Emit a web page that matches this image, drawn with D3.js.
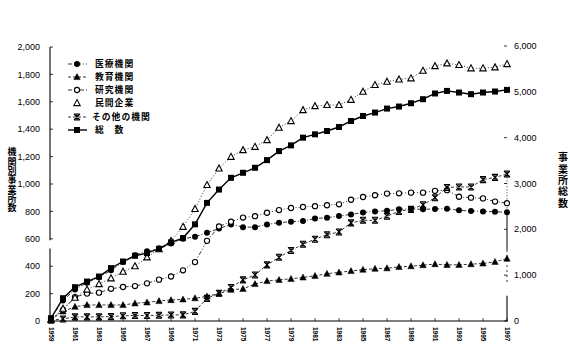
<!DOCTYPE html>
<html>
<head>
<meta charset="utf-8">
<script src="https://cdn.jsdelivr.net/npm/d3@7"></script>
<style>
  body { margin: 0; background: #fff; }
  svg { display: block; }
</style>
</head>
<body>
<div id="container"></div>
<script>
/* CONSTANTS AND DATA */
const width = 570;
const height = 362;

const years = [1959, 1960, 1961, 1962, 1963, 1964, 1965, 1966, 1967, 1968, 1969, 1970, 1971, 1972, 1973, 1974, 1975, 1976, 1977,
  1978, 1979, 1980, 1981, 1982, 1983, 1984, 1985, 1986, 1987, 1988, 1989, 1990, 1991, 1992, 1993, 1994, 1995, 1996, 1997];
const yearTicks = [1959, 1961, 1963, 1965, 1967, 1969, 1971, 1973, 1975, 1977, 1979, 1981, 1983, 1985, 1987, 1989, 1991, 1993, 1995, 1997];
const leftTicks = [0, 200, 400, 600, 800, 1000, 1200, 1400, 1600, 1800, 2000];
const rightTicks = [0, 1000, 2000, 3000, 4000, 5000, 6000];

const seriesNames = ["医療機関", "教育機関", "研究機関", "民間企業", "その他の機関", "総　数"];

// 機関別 (left axis)
const iryo = [20, 150, 230, 280, 320, 370, 430, 480, 510, 525, 565, 600, 615, 645, 675, 705, 685, 685, 705, 718, 725, 730, 748, 754,
  766, 778, 792, 800, 805, 815, 818, 815, 818, 820, 808, 803, 800, 798, 793];
const kyoiku = [10, 70, 104, 117, 117, 117, 117, 129, 136, 146, 153, 158, 166, 180, 200, 228, 235, 270, 292, 300, 308, 318, 330, 345,
  355, 365, 375, 382, 385, 395, 400, 408, 415, 410, 410, 415, 420, 432, 455];
const kenkyu = [10, 80, 175, 200, 207, 235, 248, 255, 275, 302, 325, 370, 430, 585, 690, 725, 755, 765, 790, 810, 825, 832, 838, 845,
  852, 885, 905, 918, 930, 932, 937, 937, 950, 955, 907, 900, 895, 872, 860];
const minkan = [10, 90, 170, 230, 270, 312, 360, 400, 465, 525, 585, 688, 818, 993, 1114, 1199, 1248, 1272, 1321, 1411, 1460, 1540,
  1569, 1577, 1577, 1615, 1674, 1723, 1747, 1764, 1772, 1827, 1861, 1881, 1869, 1845, 1845, 1852, 1876];
const sonota = [5, 15, 30, 30, 30, 32, 38, 40, 40, 42, 44, 45, 70, 165, 203, 245, 300, 336, 410, 465, 515, 560, 597, 630, 650, 716,
  735, 735, 765, 800, 815, 848, 900, 975, 978, 978, 1032, 1048, 1073];
// 総数 (right axis)
const sousu = [60, 497, 738, 860, 970, 1154, 1298, 1423, 1482, 1577, 1715, 1810, 2110, 2577, 2868, 3124, 3234, 3343, 3510, 3707, 3832,
  4000, 4073, 4145, 4233, 4364, 4473, 4548, 4635, 4679, 4751, 4839, 4964, 5020, 4985, 4949, 4985, 5007, 5043];

const series = [
  { name: seriesNames[0], values: iryo, axis: "L", marker: "circle", dash: "4,2,1,2", lw: 0.8 },
  { name: seriesNames[1], values: kyoiku, axis: "L", marker: "triangle", dash: "3,2", lw: 0.8 },
  { name: seriesNames[2], values: kenkyu, axis: "L", marker: "ocircle", dash: "4,2,1,2,1,2", lw: 0.8 },
  { name: seriesNames[3], values: minkan, axis: "L", marker: "otriangle", dash: "1,2", lw: 0.8 },
  { name: seriesNames[4], values: sonota, axis: "L", marker: "star", dash: "3,2", lw: 0.8 },
  { name: seriesNames[5], values: sousu, axis: "R", marker: "square", dash: null, lw: 1.4 }
];

/* SCALES */
const xScale = d3.scaleLinear().domain([1959, 1997]).range([51, 507]);
const yLeft = d3.scaleLinear().domain([0, 2000]).range([321, 47]);
const yRight = d3.scaleLinear().domain([0, 6000]).range([321, 46]);

const numFont = "'Liberation Sans', Arial, sans-serif";
const jpFont = "'Noto Sans CJK JP', 'Noto Sans CJK SC', sans-serif";

/* SVG */
const svg = d3.select("#container")
  .append("svg")
  .attr("width", width)
  .attr("height", height)
  .style("background-color", "#fff");

// left axis (line with a break between 400 and 600)
const axL = svg.append("g");
axL.append("line")
  .attr("x1", 50).attr("x2", 50)
  .attr("y1", yLeft(2000)).attr("y2", yLeft(590))
  .attr("stroke", "#000").attr("stroke-width", 1.1);
axL.append("line")
  .attr("x1", 50).attr("x2", 50)
  .attr("y1", yLeft(530)).attr("y2", yLeft(0))
  .attr("stroke", "#000").attr("stroke-width", 1.1);
axL.selectAll("line.tick")
  .data(leftTicks)
  .join("line")
  .attr("class", "tick")
  .attr("x1", 50).attr("x2", 53)
  .attr("y1", d => yLeft(d)).attr("y2", d => yLeft(d))
  .attr("stroke", "#000").attr("stroke-width", 0.8);
axL.selectAll("text")
  .data(leftTicks)
  .join("text")
  .attr("x", 40)
  .attr("y", d => yLeft(d))
  .attr("dy", "0.35em")
  .attr("text-anchor", "end")
  .style("font-family", numFont)
  .style("font-size", "9px")
  .text(d => d3.format(",")(d));

// right axis
const axR = svg.append("g");
axR.append("line")
  .attr("x1", 507).attr("x2", 507)
  .attr("y1", yRight(3200)).attr("y2", yRight(2350))
  .attr("stroke", "#000").attr("stroke-width", 0.8).attr("stroke-dasharray", "1,2");
axR.append("line")
  .attr("x1", 507).attr("x2", 507)
  .attr("y1", yRight(2350)).attr("y2", yRight(1550))
  .attr("stroke", "#000").attr("stroke-width", 1);
axR.append("line")
  .attr("x1", 507).attr("x2", 507)
  .attr("y1", yRight(1550)).attr("y2", yRight(800))
  .attr("stroke", "#000").attr("stroke-width", 0.8).attr("stroke-dasharray", "2,3");
axR.append("line")
  .attr("x1", 507).attr("x2", 507)
  .attr("y1", yRight(550)).attr("y2", yRight(0))
  .attr("stroke", "#000").attr("stroke-width", 1.1);
axR.selectAll("line.tick")
  .data(rightTicks)
  .join("line")
  .attr("class", "tick")
  .attr("x1", 504).attr("x2", 507)
  .attr("y1", d => yRight(d)).attr("y2", d => yRight(d))
  .attr("stroke", "#000").attr("stroke-width", 0.8);
axR.selectAll("text")
  .data(rightTicks)
  .join("text")
  .attr("x", 514)
  .attr("y", d => yRight(d))
  .attr("dy", "0.35em")
  .style("font-family", numFont)
  .style("font-size", "9px")
  .text(d => d3.format(",")(d));

// x axis
const axX = svg.append("g");
axX.append("line")
  .attr("x1", 50).attr("x2", 508)
  .attr("y1", 321).attr("y2", 321)
  .attr("stroke", "#000").attr("stroke-width", 1.1);
axX.selectAll("line.tick")
  .data(yearTicks)
  .join("line")
  .attr("class", "tick")
  .attr("x1", d => xScale(d)).attr("x2", d => xScale(d))
  .attr("y1", 321).attr("y2", 318)
  .attr("stroke", "#000").attr("stroke-width", 0.7);
axX.selectAll("text")
  .data(yearTicks)
  .join("text")
  .attr("transform", d => `translate(${xScale(d)},327) rotate(90)`)
  .attr("dy", "0.35em")
  .style("font-family", numFont)
  .style("font-size", "6.5px")
  .style("font-weight", "bold")
  .text(d => d);

// axis titles (vertical writing)
svg.append("text")
  .attr("x", 12).attr("y", 180)
  .attr("text-anchor", "middle")
  .style("writing-mode", "vertical-rl")
  .style("font-family", jpFont)
  .style("font-weight", "bold")
  .style("font-size", "9px")
  .style("letter-spacing", "0.3px")
  .text("機関別事業所数");
svg.append("text")
  .attr("x", 563).attr("y", 181)
  .attr("text-anchor", "middle")
  .style("writing-mode", "vertical-rl")
  .style("font-family", jpFont)
  .style("font-weight", "bold")
  .style("font-size", "10px")
  .style("letter-spacing", "1.4px")
  .text("事業所総数");

/* MARKERS */
function drawMarker(g, type, cx, cy) {
  if (type === "circle") {
    g.append("circle").attr("cx", cx).attr("cy", cy).attr("r", 3).attr("fill", "#000");
  } else if (type === "ocircle") {
    g.append("circle").attr("cx", cx).attr("cy", cy).attr("r", 2.6)
      .attr("fill", "#fff").attr("stroke", "#000").attr("stroke-width", 1.1);
  } else if (type === "triangle" || type === "otriangle") {
    const p = `M${cx},${cy - 3.4}L${cx + 3.2},${cy + 2.6}L${cx - 3.2},${cy + 2.6}Z`;
    g.append("path").attr("d", p)
      .attr("fill", type === "triangle" ? "#000" : "#fff")
      .attr("stroke", "#000").attr("stroke-width", type === "triangle" ? 0.5 : 1.1);
  } else if (type === "square") {
    g.append("rect").attr("x", cx - 3).attr("y", cy - 3).attr("width", 6).attr("height", 6).attr("fill", "#000");
  } else if (type === "star") {
    const s = 3;
    const p = `M${cx - s},${cy - s}L${cx + s},${cy + s}M${cx + s},${cy - s}L${cx - s},${cy + s}` +
      `M${cx},${cy - s}L${cx},${cy + s}M${cx - s},${cy - s}L${cx + s},${cy - s}M${cx - s},${cy + s}L${cx + s},${cy + s}`;
    g.append("path").attr("d", p).attr("fill", "none").attr("stroke", "#000").attr("stroke-width", 1.1);
  }
}

/* LINES AND POINTS */
const plot = svg.append("g");
series.forEach(s => {
  const yS = s.axis === "L" ? yLeft : yRight;
  const line = d3.line()
    .x((d, i) => xScale(years[i]))
    .y(d => yS(d));
  plot.append("path")
    .datum(s.values)
    .attr("d", line)
    .attr("fill", "none")
    .attr("stroke", "#000")
    .attr("stroke-width", s.lw)
    .attr("stroke-dasharray", s.dash);
});
series.forEach(s => {
  const yS = s.axis === "L" ? yLeft : yRight;
  const g = plot.append("g");
  s.values.forEach((v, i) => drawMarker(g, s.marker, xScale(years[i]), yS(v)));
});

/* LEGEND */
const legend = svg.append("g");
const legendY = [64, 77, 90, 103, 117, 130];
series.forEach((s, i) => {
  const y = legendY[i];
  if (s.marker !== "otriangle") {
    legend.append("line")
      .attr("x1", 68).attr("x2", 87)
      .attr("y1", y).attr("y2", y)
      .attr("stroke", "#000")
      .attr("stroke-width", s.lw)
      .attr("stroke-dasharray", s.dash);
  }
  drawMarker(legend, s.marker, 77, y);
  legend.append("text")
    .attr("x", i === 4 ? 92 : 95)
    .attr("y", y)
    .attr("dy", "0.36em")
    .style("font-family", jpFont)
    .style("font-weight", "bold")
    .style("font-size", "8.8px")
    .style("letter-spacing", "1px")
    .text(s.name);
});
</script>
</body>
</html>
